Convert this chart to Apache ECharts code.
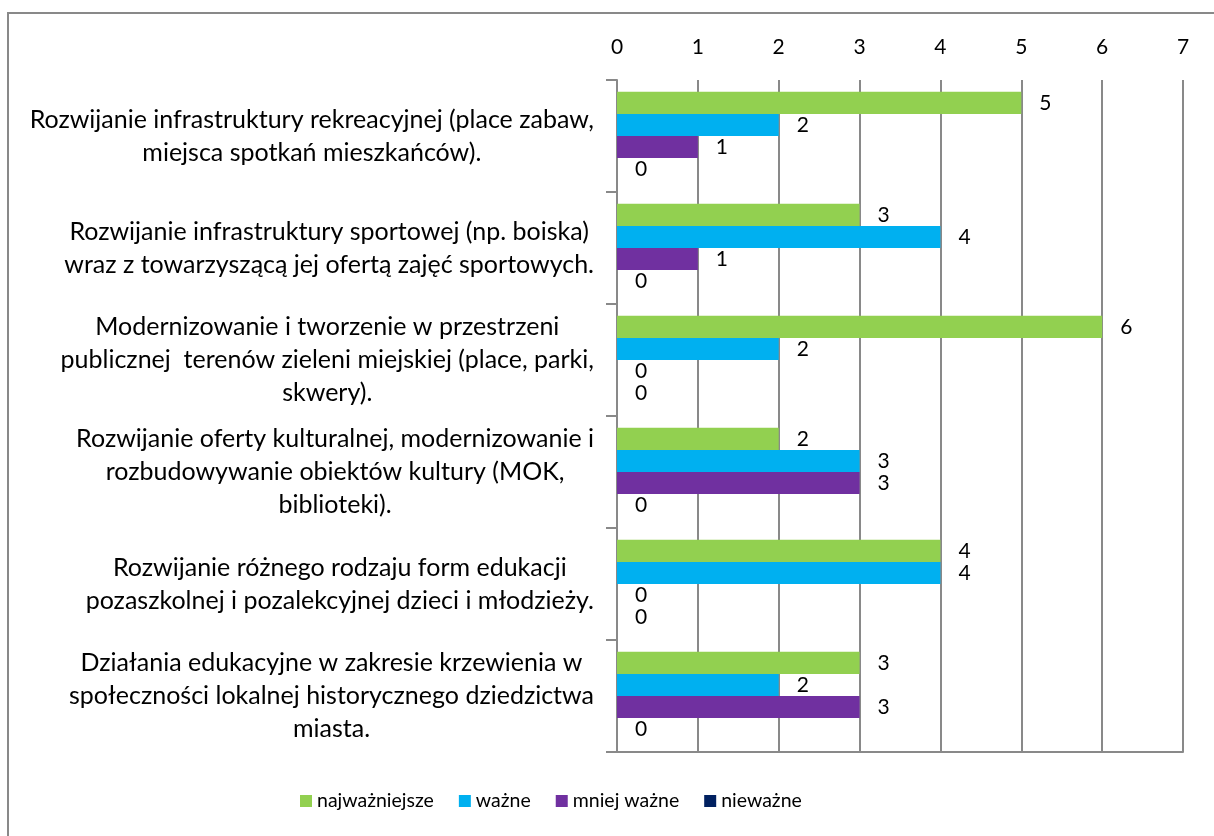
<!DOCTYPE html>
<html>
<head>
<meta charset="utf-8">
<style>
  html, body { margin: 0; padding: 0; background: #fff; }
  #chart { width: 1214px; height: 836px; }
</style>
<script src="https://cdn.jsdelivr.net/npm/echarts@6/dist/echarts.min.js"></script>
</head>
<body>
<div id="chart"></div>
<script>
// kategorie (oś pionowa)
var categories = [
  'Rozwijanie infrastruktury rekreacyjnej (place zabaw,\nmiejsca spotkań mieszkańców).',
  'Rozwijanie infrastruktury sportowej (np. boiska)\nwraz z towarzyszącą jej ofertą zajęć sportowych.',
  'Modernizowanie i tworzenie w przestrzeni\npublicznej  terenów zieleni miejskiej (place, parki,\nskwery).',
  'Rozwijanie oferty kulturalnej, modernizowanie i\nrozbudowywanie obiektów kultury (MOK,\nbiblioteki).',
  'Rozwijanie różnego rodzaju form edukacji\npozaszkolnej i pozalekcyjnej dzieci i młodzieży.',
  'Działania edukacyjne w zakresie krzewienia w\nspołeczności lokalnej historycznego dziedzictwa\nmiasta.'
]
var seriesNames = ['najważniejsze', 'ważne', 'mniej ważne', 'nieważne']
var najwazniejsze = [5, 3, 6, 2, 4, 3]
var wazne = [2, 4, 2, 3, 4, 2]
var mniejWazne = [1, 1, 0, 3, 0, 3]
var niewazne = [0, 0, 0, 0, 0, 0]
var xTicks = [0, 1, 2, 3, 4, 5, 6, 7]

var colors = ['#92D050', '#00B0F0', '#7030A0', '#002060']
var font = 'Lato, "Open Sans", sans-serif'
var gray = '#898989'

function makeSeries(name, values, idx) {
  return {
    name: name,
    type: 'bar',
    data: values,
    barGap: '0%',
    barCategoryGap: '21%',
    itemStyle: { color: colors[idx] },
    label: {
      show: true,
      position: 'right',
      distance: 18,
      color: '#000',
      fontFamily: font,
      fontSize: 21
    }
  }
}

var myChart = echarts.init(document.getElementById('chart'))
var option = {
  animation: false,
  color: colors,
  textStyle: { fontFamily: font },
  graphic: [{
    type: 'rect',
    shape: { x: 8, y: 13, width: 1400, height: 1000 },
    style: { fill: 'none', stroke: gray, lineWidth: 2 },
    silent: true
  }],
  grid: {
    left: 617,
    right: 31,
    top: 80,
    bottom: 84
  },
  legend: {
    bottom: 20,
    left: 295,
    itemWidth: 12,
    itemHeight: 12,
    itemGap: 25,
    icon: 'rect',
    textStyle: { fontFamily: font, fontSize: 19.5, color: '#000' },
    data: seriesNames
  },
  xAxis: [{
    type: 'value',
    position: 'top',
    min: xTicks[0],
    max: xTicks[xTicks.length - 1],
    interval: 1,
    axisLine: { show: false },
    axisTick: { show: false },
    axisLabel: { color: '#000', fontFamily: font, fontSize: 21, margin: 22 },
    splitLine: { show: true, lineStyle: { color: gray, width: 2 } }
  }, {
    type: 'value',
    position: 'bottom',
    min: xTicks[0],
    max: xTicks[xTicks.length - 1],
    interval: 1,
    axisLine: { show: true, lineStyle: { color: gray, width: 2 } },
    axisTick: { show: false },
    axisLabel: { show: false },
    splitLine: { show: false }
  }],
  yAxis: {
    type: 'category',
    inverse: true,
    data: categories,
    axisLine: { show: true, lineStyle: { color: gray, width: 2 } },
    axisTick: { show: true, length: 11, lineStyle: { color: gray, width: 2 } },
    axisLabel: {
      color: '#000',
      align: 'right',
      margin: 23,
      formatter: function (v) {
        return v.split('\n').map(function (l) { return '{c|' + l + '}' }).join('\n')
      },
      rich: {
        c: { align: 'center', fontFamily: font, fontSize: 25, lineHeight: 33, color: '#000' }
      }
    }
  },
  series: [
    makeSeries(seriesNames[0], najwazniejsze, 0),
    makeSeries(seriesNames[1], wazne, 1),
    makeSeries(seriesNames[2], mniejWazne, 2),
    makeSeries(seriesNames[3], niewazne, 3)
  ]
}
myChart.setOption(option)
window.addEventListener('resize', function () {
  if (myChart) myChart.resize()
})
</script>
</body>
</html>
